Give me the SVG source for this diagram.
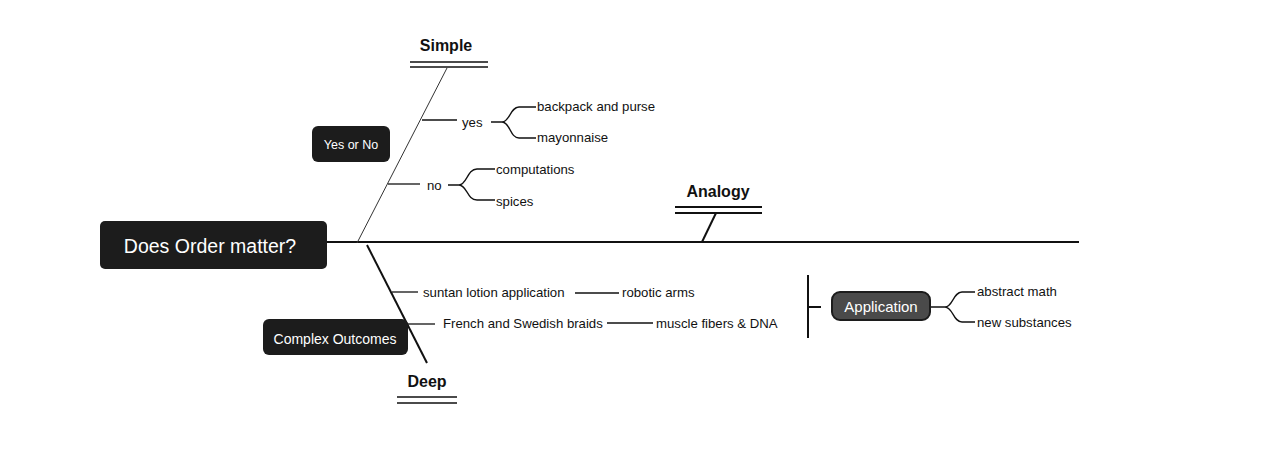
<svg xmlns="http://www.w3.org/2000/svg" width="1267" height="452" viewBox="0 0 1267 452">
<style>
.lbl{font-family:"Liberation Sans",Arial,sans-serif;font-size:13.2px;fill:#111;dominant-baseline:central}
.ttl{font-family:"Liberation Sans",Arial,sans-serif;font-size:16px;font-weight:bold;fill:#111;text-anchor:middle}
.box{fill:#1c1c1c}
.wt{font-family:"Liberation Sans",Arial,sans-serif;fill:#fff;text-anchor:middle;dominant-baseline:central}
.ln{fill:none;stroke:#111;stroke-width:1.3}
.bold{fill:none;stroke:#111;stroke-width:2}
.thin{fill:none;stroke:#333;stroke-width:1}
</style>
<rect width="1267" height="452" fill="#fff"/>
<g id="connectors">
  <path class="bold" d="M327,242 L1079,242"/>
  <path class="thin" d="M357,243 L447,68"/>
  <path class="bold" d="M367,245 L427,363"/>
  <path class="bold" d="M716,213 L702,242"/>
  <path class="ln" d="M422,120 H457"/>
  <path class="ln" d="M491,122 H502 C510,122 510,107 519,107 H536 M502,122 C510,122 510,138 519,138 H536"/>
  <path class="ln" d="M388,184 H420"/>
  <path class="ln" d="M448,185 H459 C467,185 467,169 477,169 H495 M459,185 C467,185 467,200 477,200 H495"/>
  <path class="ln" d="M392,292 H418"/>
  <path class="ln" d="M575,293 H619"/>
  <path class="ln" d="M408,324 H435"/>
  <path class="ln" d="M607,323 H653"/>
  <path class="bold" d="M808,275 V338 M808,307 H821"/>
  <path class="ln" d="M930,307 H945 C953,307 953,292 962,292 H975 M945,307 C953,307 953,322 962,322 H975"/>
</g>
<g id="main">
  <rect class="box" x="100" y="221" width="227" height="48" rx="5"/>
  <text class="wt" x="210" y="246" style="font-size:19.5px">Does Order matter?</text>
</g>
<g id="simple">
  <text class="ttl" x="446" y="51">Simple</text>
  <path class="ln" d="M410,62 H488 M410,67 H488"/>
</g>
<g id="analogy">
  <text class="ttl" x="718" y="197">Analogy</text>
  <path class="bold" d="M675,207 H762 M675,213 H762" style="stroke-width:1.8"/>
</g>
<g id="deep">
  <text class="ttl" x="427" y="387">Deep</text>
  <path class="bold" d="M397,397 H457 M397,403 H457" style="stroke-width:1.6"/>
</g>
<g id="yesorno">
  <rect class="box" x="312" y="126" width="78" height="36" rx="6"/>
  <text class="wt" x="351" y="145" style="font-size:12.5px">Yes or No</text>
</g>
<g id="complex">
  <rect class="box" x="263" y="319" width="145" height="36" rx="6"/>
  <text class="wt" x="335" y="339" style="font-size:14px">Complex Outcomes</text>
</g>
<g id="application">
  <rect x="832" y="292" width="98" height="28" rx="8" fill="#4a4a4a" stroke="#1c1c1c" stroke-width="2"/>
  <text class="wt" x="881" y="306" style="font-size:15px">Application</text>
</g>
<g id="n-yes"><text class="lbl" x="462" y="122">yes</text></g>
<g id="n-backpack"><text class="lbl" x="537" y="106">backpack and purse</text></g>
<g id="n-mayo"><text class="lbl" x="537" y="137">mayonnaise</text></g>
<g id="n-no"><text class="lbl" x="427" y="185">no</text></g>
<g id="n-comp"><text class="lbl" x="496" y="169">computations</text></g>
<g id="n-spices"><text class="lbl" x="496" y="201">spices</text></g>
<g id="n-suntan"><text class="lbl" x="423" y="292">suntan lotion application</text></g>
<g id="n-robotic"><text class="lbl" x="622" y="292">robotic arms</text></g>
<g id="n-french"><text class="lbl" x="443" y="323">French and Swedish braids</text></g>
<g id="n-muscle"><text class="lbl" x="656" y="323">muscle fibers &amp; DNA</text></g>
<g id="n-abstract"><text class="lbl" x="977" y="291">abstract math</text></g>
<g id="n-new"><text class="lbl" x="977" y="322">new substances</text></g>
</svg>
